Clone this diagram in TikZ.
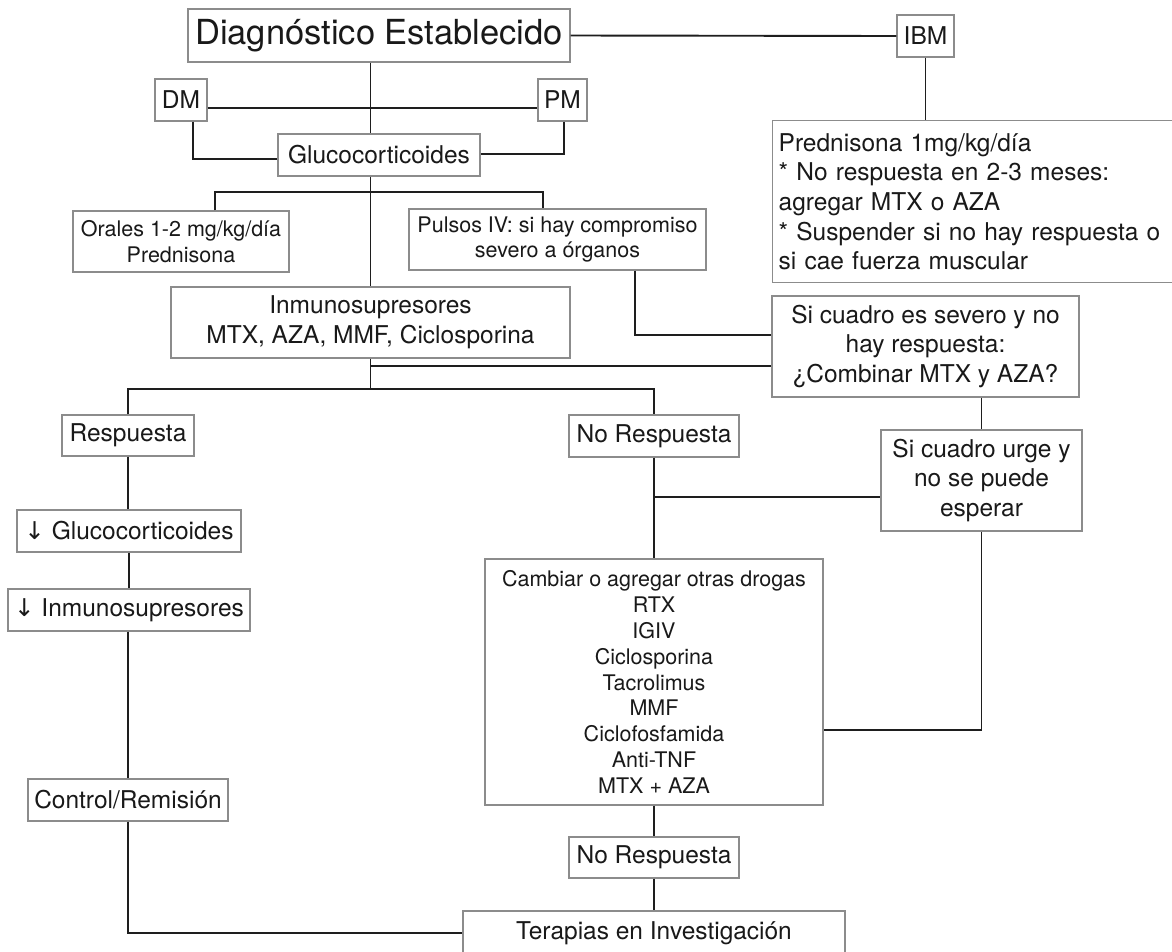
\documentclass[tikz,border=0pt]{standalone}
\usepackage{fontspec}
\setmainfont{TeX Gyre Heros}
\newfontfamily\arrowfont{DejaVu Sans}
\definecolor{boxgray}{HTML}{8C8C8C}
\definecolor{linecol}{HTML}{1E1E1E}
\newcommand\fsbig{\fontsize{34.5}{41}\selectfont}
\newcommand\fsnorm{\fontsize{24.5}{29.6}\selectfont}
\newcommand\fssmall{\fontsize{21.5}{25.9}\selectfont}
\tikzset{
  box/.style={draw=boxgray, line width=1.4pt, fill=white, inner sep=0pt, font=\fsnorm, align=center, text=black!90},
  conn/.style={draw=linecol, line width=1.9pt},
}
\begin{document}
\begin{tikzpicture}[x=1pt,y=-1pt]
\useasboundingbox (0,0) rectangle (1172,951);
\clip (0,0) rectangle (1172,951);
\fill[white] (0,0) rectangle (1172,951);

% helper coordinates (y levels)
\coordinate (y108) at (0,108);
\coordinate (y159) at (0,159);
\coordinate (y154) at (0,154);
\coordinate (y335) at (0,335);
\coordinate (y366) at (0,366);
\coordinate (y389) at (0,389);
\coordinate (y497) at (0,497);
\coordinate (y730) at (0,730);
\coordinate (b1) at (370,192);
\coordinate (b2) at (370.5,389);

% nodes
\node[box, font=\fsbig, minimum width=382pt, minimum height=53pt] (diag) at (379,35.5) {Diagnóstico Establecido};
\node[box, minimum width=52pt, minimum height=42pt] (dm) at (181,100) {DM};
\node[box, minimum width=49pt, minimum height=42pt] (pm) at (562.5,100) {PM};
\node[box, minimum width=57pt, minimum height=42pt] (ibm) at (925.5,36) {IBM};
\node[box, minimum width=202pt, minimum height=42pt] (gluco) at (379,155) {Glucocorticoides};
\node[box, font=\fssmall, minimum width=216pt, minimum height=61pt] (orales) at (181,241.5) {Orales 1-2 mg/kg/día\\Prednisona};
\node[box, font=\fssmall, minimum width=297pt, minimum height=61pt] (pulsos) at (557.5,239.5) {Pulsos IV: si hay compromiso\\severo a órganos};
\node[box, anchor=north west, text width=401pt, inner xsep=6pt, align=left, minimum height=162pt] (pred) at (772,120) {Prednisona 1mg/kg/día\\{*} No respuesta en 2-3 meses:\\agregar MTX o AZA\\{*} Suspender si no hay respuesta o\\si cae fuerza muscular};
\node[box, minimum width=399pt, minimum height=71pt] (inmuno) at (370.5,322.5) {Inmunosupresores\\MTX, AZA, MMF, Ciclosporina};
\node[box, minimum width=307pt, minimum height=101pt] (severo) at (925.5,346.5) {Si cuadro es severo y no\\hay respuesta:\\¿Combinar MTX y AZA?};
\node[box, minimum width=132pt, minimum height=41pt] (resp) at (128,435.5) {Respuesta};
\node[box, minimum width=170pt, minimum height=42pt] (noresp) at (654,436) {No Respuesta};
\node[box, minimum width=201pt, minimum height=101pt] (urge) at (981.5,480.5) {Si cuadro urge y\\no se puede\\esperar};
\node[box, minimum width=224pt, minimum height=42pt] (dgluco) at (129,531) {{\arrowfont ↓} Glucocorticoides};
\node[box, minimum width=242pt, minimum height=42pt] (dinmuno) at (129,610) {{\arrowfont ↓} Inmunosupresores};
\node[box, font=\fssmall, minimum width=338pt, minimum height=246pt] (cambiar) at (654,682) {Cambiar o agregar otras drogas\\RTX\\IGIV\\Ciclosporina\\Tacrolimus\\MMF\\Ciclofosfamida\\Anti-TNF\\MTX + AZA};
\node[box, minimum width=200pt, minimum height=42pt] (control) at (128,800) {Control/Remisión};
\node[box, minimum width=170pt, minimum height=41pt] (noresp2) at (654,857.5) {No Respuesta};
\node[box, minimum width=382pt, minimum height=44pt] (terap) at (654,933) {Terapias en Investigación};

% connectors
\draw[conn] (diag.east) -- (ibm.west);
\draw[conn] (ibm.south) -- (pred.north -| ibm.south);
\draw[conn] (diag.south -| inmuno.north) -- (gluco.north -| inmuno.north);
\draw[conn] (dm.east |- y108) -- (pm.west |- y108);
\draw[conn] ([xshift=12pt]dm.south) |- (gluco.west |- y159);
\draw[conn] ([xshift=1.5pt]pm.south) |- (gluco.east |- y154);
\draw[conn] (gluco.south -| inmuno.north) -- (inmuno.north);
\draw[conn] ([xshift=34pt]orales.north) |- (b1) -| ([xshift=-14.5pt]pulsos.north);
\draw[conn] ([xshift=77.5pt]pulsos.south) |- (severo.west |- y335);
\draw[conn] (inmuno.south) -- (b2);
\draw[conn] (inmuno.south |- y366) -- (severo.west |- y366);
\draw[conn] (resp.north) |- (b2) -| (noresp.north);
\draw[conn] (resp.south) -- (resp.south |- dgluco.north);
\draw[conn] (dgluco.south) -- (dinmuno.north);
\draw[conn] (dinmuno.south -| control.north) -- (control.north);
\draw[conn] (control.south) |- (terap.west);
\draw[conn] (noresp.south) -- (cambiar.north);
\draw[conn] (noresp.south |- y497) -- (urge.west |- y497);
\draw[conn] (urge.north |- severo.south) -- (urge.north);
\draw[conn] (urge.south) |- (cambiar.east |- y730);
\draw[conn] (cambiar.south) -- (noresp2.north);
\draw[conn] (noresp2.south) -- (terap.north);
\end{tikzpicture}
\end{document}
